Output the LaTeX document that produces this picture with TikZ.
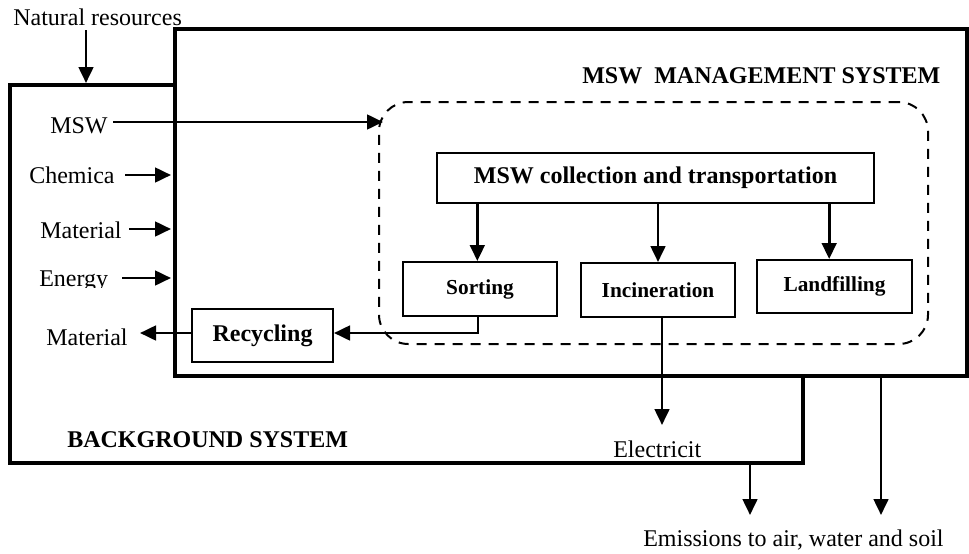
\documentclass[tikz,border=0pt]{standalone}
\usepackage{fontspec}
\setmainfont{Liberation Serif}
\usetikzlibrary{arrows.meta,fit}
\begin{document}
\begin{tikzpicture}[x=0.75pt,y=-0.75pt,
  every node/.style={font=\fontsize{18}{21}\selectfont, inner sep=0pt},
  sysbox/.style={draw, line width=3pt},
  procbox/.style={draw, line width=1.5pt, align=center, font=\fontsize{18}{21}\selectfont\bfseries},
  smallproc/.style={procbox, font=\fontsize{16}{19}\selectfont\bfseries},
  subsys/.style={draw, line width=1.5pt, dash pattern=on 7.5pt off 6pt, rounded corners=22pt},
  flow/.style={line width=2pt, -{Triangle[length=12pt,width=11pt]}},
  lbl/.style={anchor=base west},
  title/.style={anchor=base west, font=\fontsize{18}{21}\selectfont\bfseries}
]
\useasboundingbox (0,0) rectangle (969,553);

% system boundaries
\node[sysbox, fit={(10,85) (803,463)}] (bg) {};
\node[sysbox, fill=white, fit={(175,29) (967,376)}] (msws) {};
\node[subsys, fit={(379,102) (928,344)}] (sub) {};

% process boxes
\node[procbox, minimum width=327.75pt, minimum height=37.5pt] (collect) at (655.5,178) {MSW collection and transportation};
\node[smallproc, minimum width=115.5pt, minimum height=40.5pt] (sort) at (480,289) {Sorting};
\node[smallproc, minimum width=115.5pt, minimum height=40.5pt] (incin) at (658,290) {Incineration};
\node[smallproc, minimum width=116.25pt, minimum height=39.75pt] (landf) at (834.5,286.5) {Landfilling};
\node[procbox, minimum width=105.75pt, minimum height=39.75pt] (recyc) at (262.5,335.5) {Recycling};

% titles
\node[title] (mswtitle) at (582,83) {MSW\ \ MANAGEMENT SYSTEM};
\node[title] (bgtitle) at (67,447) {BACKGROUND SYSTEM};

% flow labels
\node[lbl] (natres) at (13,26) {Natural resources};
\node[lbl] (mswin) at (50,133) {MSW};
\node[lbl] (chem) at (29,183) {Chemica};
\node[lbl] (matin) at (40,238) {Material};
\begin{scope}
  \clip (30,255) rectangle (125,287.5);
  \node[lbl] (energy) at (39,286) {Energy};
\end{scope}
\node[lbl] (matout) at (46,345) {Material};
\node[lbl] (elec) at (613,457) {Electricit};
\node[lbl] (emis) at (643,546) {Emissions to air, water and soil};

% connector ends
\coordinate (natres-out) at (86,30);
\coordinate (mswin-out) at (113,122);
\coordinate (subin) at (383,122);
\coordinate (chem-out) at (125,175);
\coordinate (matin-out) at (129,229);
\coordinate (energy-out) at (122,278);
\coordinate (matout-in) at (140,333);
\coordinate (elec-in) at (662,425);
\coordinate (emis-a) at (750,515);
\coordinate (emis-b) at (881,515);

% inputs
\draw[flow] (natres-out) -- (natres-out |- bg.north);
\draw[flow] (mswin-out) -- (subin);
\draw[flow, shorten >=1.5pt] (chem-out) -- (chem-out -| msws.west);
\draw[flow, shorten >=1.5pt] (matin-out) -- (matin-out -| msws.west);
\draw[flow, shorten >=1.5pt] (energy-out) -- (energy-out -| msws.west);

% internal flows
\draw[flow] ([xshift=-2pt]collect.south -| sort.north) -- ([xshift=-2pt]sort.north);
\draw[flow] (collect.south -| incin.north) -- (incin.north);
\draw[flow] ([xshift=-4pt]collect.south -| landf.north) -- ([xshift=-4pt]landf.north);
\draw[flow] ([xshift=-1.5pt]sort.south) |- (recyc.east |- matout-in);
\draw[flow] (recyc.west |- matout-in) -- (matout-in);

% outputs
\draw[flow] (incin.south -| elec-in) -- (elec-in);
\draw[flow] (bg.south -| emis-a) -- (emis-a);
\draw[flow] (msws.south -| emis-b) -- (emis-b);
\end{tikzpicture}
\end{document}
